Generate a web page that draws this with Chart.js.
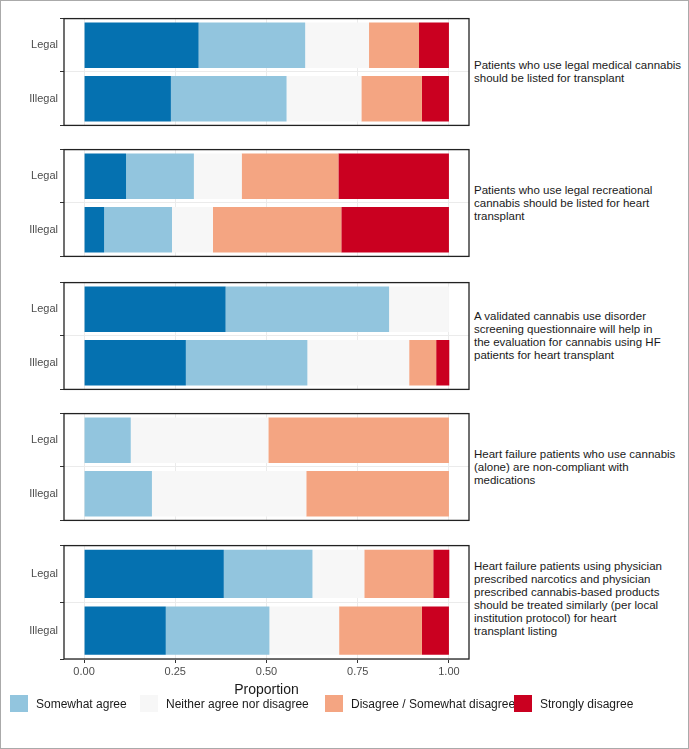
<!DOCTYPE html><html><head><meta charset="utf-8">
<script src="https://cdn.jsdelivr.net/npm/chart.js@4"></script>
<style>
body{margin:0;width:689px;height:749px;overflow:hidden;background:#fff;font-family:"Liberation Sans",Arial,sans-serif;position:relative}
#frame{position:absolute;left:0;top:0;width:687px;height:747px;border:1px solid #aaa}
canvas{position:absolute;left:0}
.lab{position:absolute;left:474px;width:240px;font-size:11.5px;line-height:13px;color:#1a1a1a;white-space:nowrap}
.leg{position:absolute;top:695px;font-size:12px;color:#1a1a1a;display:flex;align-items:center}
.leg span{display:inline-block;width:18px;height:17px;margin-right:8px}
</style></head><body><div id="frame"></div>
<script>
const groups=['Legal','Illegal'];
const questions=[
 ['Patients who use legal medical cannabis','should be listed for transplant'],
 ['Patients who use legal recreational','cannabis should be listed for heart','transplant'],
 ['A validated cannabis use disorder','screening questionnaire will help in','the evaluation for cannabis using HF','patients for heart transplant'],
 ['Heart failure patients who use cannabis','(alone) are non-compliant with','medications'],
 ['Heart failure patients using physician','prescribed narcotics and physician','prescribed cannabis-based products','should be treated similarly (per local','institution protocol) for heart','transplant listing']];
const seriesNames=['Strongly agree','Somewhat agree','Neither agree nor disagree','Disagree / Somewhat disagree','Strongly disagree'];
const strongAgree=[[0.314,0.238],[0.115,0.055],[0.388,0.279],[0,0],[0.383,0.224]];
const somewhatAgree=[[0.292,0.317],[0.186,0.186],[0.448,0.333],[0.128,0.186],[0.243,0.284]];
const neither=[[0.175,0.205],[0.131,0.112],[0.164,0.279],[0.377,0.423],[0.142,0.191]];
const disagree=[[0.137,0.166],[0.265,0.352],[0,0.074],[0.495,0.391],[0.189,0.227]];
const strongDisagree=[[0.082,0.074],[0.303,0.295],[0,0.036],[0,0],[0.044,0.074]];
const xTicks=[0,0.25,0.5,0.75,1];
const colors=['#0571b0','#92c5de','#f7f7f7','#f4a582','#ca0020'];
const all=[strongAgree,somewhatAgree,neither,disagree,strongDisagree];
const tops=[10,141,274,405,537];const H=124;
const border={id:'bd',afterDraw(c){const a=c.chartArea,x=c.ctx;x.save();x.strokeStyle='#222';x.lineWidth=1.3;x.strokeRect(a.left,a.top,a.right-a.left,a.bottom-a.top);x.restore();}};
questions.forEach((q,i)=>{
 const last=i===4;const cv=document.createElement('canvas');
 const h=last?H+44:H;cv.style.top=tops[i]+'px';cv.style.width='470px';cv.style.height=h+'px';
 document.body.appendChild(cv);
 new Chart(cv,{type:'bar',data:{labels:groups,datasets:all.map((s,k)=>({label:seriesNames[k],data:s[i],backgroundColor:colors[k],borderWidth:0,categoryPercentage:0.85,barPercentage:1}))},
 options:{indexAxis:'y',responsive:false,animation:false,devicePixelRatio:1,layout:{padding:{top:0,bottom:last?2:0,right:1}},
 plugins:{legend:{display:false},tooltip:{enabled:false}},
 scales:{x:{stacked:true,min:-0.055,max:1.055,afterBuildTicks(a){a.ticks=xTicks.map(v=>({value:v}));},
  grid:{color:'#ebebeb',drawTicks:last,tickLength:4,tickColor:'#333'},border:{display:false},
  ticks:{display:last,color:'#4d4d4d',font:{size:11,family:'Liberation Sans'},padding:2,callback:v=>v.toFixed(2)},
  title:{display:last,text:'Proportion',color:'#1a1a1a',font:{size:14,family:'Liberation Sans'},padding:{top:2}}},
  y:{stacked:true,afterFit(a){a.width=64;},grid:{color:'#ebebeb',drawTicks:true,tickLength:4,tickColor:'#333'},border:{display:false},
  ticks:{color:'#4d4d4d',font:{size:11,family:'Liberation Sans'},padding:2}}}},plugins:[border]});
 const d=document.createElement('div');d.className='lab';d.innerHTML=q.join('<br>');
 d.style.top=(tops[i]+H/2-q.length*6.5)+'px';document.body.appendChild(d);
});
[[10,1],[140,2],[325,3],[514,4]].forEach(([x,k])=>{const e=document.createElement('div');e.className='leg';e.style.left=x+'px';
 e.innerHTML=`<span style="background:${colors[k]}"></span>${seriesNames[k]}`;document.body.appendChild(e);});
</script></body></html>
